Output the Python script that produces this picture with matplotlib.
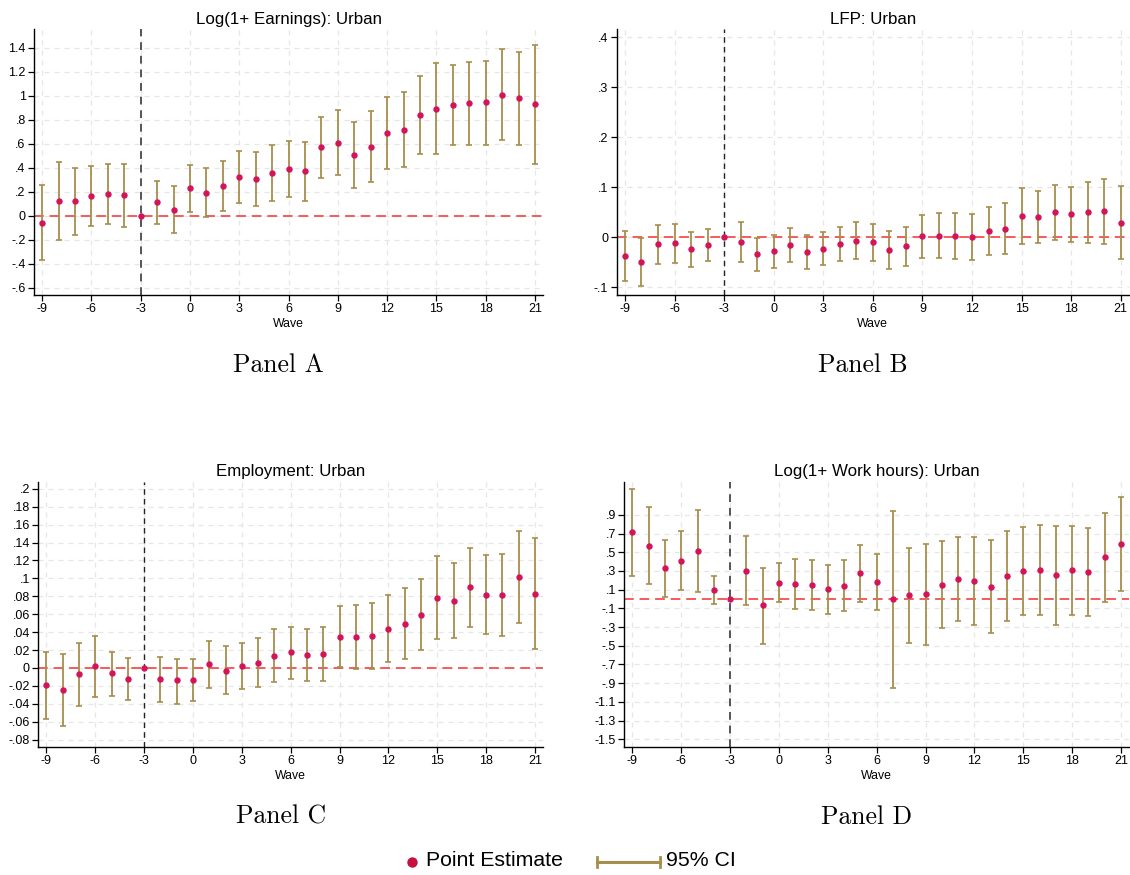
import numpy as np
import matplotlib
matplotlib.use("Agg")
import matplotlib.pyplot as plt

plt.rcParams['font.family'] = ['Liberation Sans', 'DejaVu Sans']
plt.rcParams['axes.unicode_minus'] = False

waves = list(range(-9, 22))
nan = np.nan

# Panel A: Log(1+ Earnings)
earn_est = [-0.06, 0.122, 0.12, 0.164, 0.183, 0.169, 0.0, 0.111, 0.05, 0.228, 0.192, 0.247,
            0.319, 0.306, 0.358, 0.389, 0.369, 0.569, 0.606, 0.506, 0.575, 0.686, 0.714,
            0.839, 0.889, 0.922, 0.936, 0.944, 1.008, 0.978, 0.928]
earn_lo = [-0.37, -0.203, -0.161, -0.086, -0.067, -0.092, nan, -0.069, -0.142, 0.031, -0.011, 0.036,
           0.106, 0.078, 0.119, 0.153, 0.122, 0.314, 0.339, 0.228, 0.278, 0.389, 0.406,
           0.517, 0.511, 0.589, 0.586, 0.592, 0.628, 0.592, 0.433]
earn_hi = [0.255, 0.45, 0.397, 0.417, 0.433, 0.433, nan, 0.289, 0.247, 0.425, 0.394, 0.458,
           0.536, 0.533, 0.592, 0.625, 0.617, 0.825, 0.878, 0.781, 0.869, 0.986, 1.028,
           1.164, 1.269, 1.258, 1.281, 1.292, 1.386, 1.361, 1.422]

# Panel B: LFP
lfp_est = [-0.038, -0.049, -0.014, -0.012, -0.024, -0.015, 0.0, -0.009, -0.034, -0.027, -0.015, -0.03,
           -0.023, -0.013, -0.007, -0.01, -0.025, -0.017, 0.002, 0.003, 0.002, 0.001, 0.013,
           0.017, 0.043, 0.041, 0.05, 0.046, 0.051, 0.052, 0.029]
lfp_lo = [-0.087, -0.097, -0.053, -0.052, -0.06, -0.047, nan, -0.049, -0.067, -0.061, -0.049, -0.063,
          -0.056, -0.048, -0.044, -0.047, -0.063, -0.057, -0.041, -0.042, -0.044, -0.046, -0.036,
          -0.034, -0.014, -0.011, -0.005, -0.009, -0.011, -0.013, -0.044]
lfp_hi = [0.012, -0.001, 0.025, 0.027, 0.011, 0.017, nan, 0.031, -0.001, 0.005, 0.019, 0.004,
          0.010, 0.021, 0.03, 0.027, 0.013, 0.021, 0.045, 0.049, 0.049, 0.047, 0.061,
          0.068, 0.099, 0.093, 0.105, 0.101, 0.111, 0.116, 0.103]

# Panel C: Employment
emp_est = [-0.019, -0.025, -0.007, 0.002, -0.006, -0.012, 0.0, -0.012, -0.014, -0.013, 0.004, -0.003,
           0.002, 0.006, 0.013, 0.0175, 0.0145, 0.015, 0.035, 0.034, 0.036, 0.044, 0.0495,
           0.0596, 0.0786, 0.075, 0.090, 0.0816, 0.081, 0.102, 0.083]
emp_lo = [-0.057, -0.065, -0.042, -0.032, -0.031, -0.036, nan, -0.038, -0.04, -0.037, -0.022, -0.029,
          -0.024, -0.021, -0.016, -0.012, -0.0145, -0.015, 0.001, -0.001, -0.0015, 0.007, 0.010,
          0.020, 0.032, 0.033, 0.046, 0.038, 0.036, 0.050, 0.0216]
emp_hi = [0.018, 0.015, 0.028, 0.036, 0.018, 0.011, nan, 0.012, 0.010, 0.010, 0.030, 0.024,
          0.028, 0.033, 0.043, 0.046, 0.044, 0.046, 0.069, 0.070, 0.073, 0.082, 0.089,
          0.099, 0.125, 0.117, 0.134, 0.126, 0.127, 0.153, 0.145]

# Panel D: Log(1+ Work hours)
hrs_est = [0.713, 0.57, 0.328, 0.41, 0.51, 0.096, 0.0, 0.303, -0.068, 0.175, 0.157, 0.15,
           0.107, 0.143, 0.278, 0.182, 0.0, 0.039, 0.05, 0.15, 0.214, 0.193, 0.132,
           0.25, 0.296, 0.314, 0.253, 0.31, 0.285, 0.446, 0.592]
hrs_lo = [0.25, 0.157, 0.018, 0.093, 0.071, -0.053, nan, -0.068, -0.478, -0.036, -0.111, -0.118,
          -0.157, -0.128, -0.029, -0.121, -0.952, -0.471, -0.496, -0.314, -0.239, -0.278, -0.364,
          -0.235, -0.171, -0.168, -0.278, -0.168, -0.185, -0.032, 0.086]
hrs_hi = [1.18, 0.984, 0.635, 0.731, 0.948, 0.246, nan, 0.674, 0.335, 0.381, 0.428, 0.421,
          0.367, 0.414, 0.581, 0.485, 0.941, 0.545, 0.588, 0.617, 0.66, 0.66, 0.627,
          0.731, 0.766, 0.795, 0.784, 0.784, 0.759, 0.92, 1.094]

titles = ["Log(1+ Earnings): Urban", "LFP: Urban", "Employment: Urban", "Log(1+ Work hours): Urban"]
panel_names = ["Panel A", "Panel B", "Panel C", "Panel D"]
xticks = [-9, -6, -3, 0, 3, 6, 9, 12, 15, 18, 21]

EST_COLOR = "#D4145A"
CI_COLOR = "#A68E4C"
ZERO_COLOR = "#F25C5C"

W, H = 1130, 875
fig = plt.figure(figsize=(W / 100, H / 100), dpi=100)


def px_axes(left, top, right, bottom):
    return fig.add_axes([left / W, 1 - bottom / H, (right - left) / W, (bottom - top) / H])


def stata_fmt(v, _pos=None):
    if abs(v) < 1e-9:
        return "0"
    s = f"{v:.2f}".rstrip("0").rstrip(".")
    s = s.replace("-0.", "-.")
    if s.startswith("0."):
        s = s[1:]
    return s


panels = [
    dict(est=earn_est, lo=earn_lo, hi=earn_hi, box=(34, 29.3, 543.2, 295),
         ylim=(-0.661, 1.553), yticks=np.round(np.arange(-0.6, 1.41, 0.2), 2), vcol="#555555", vlw=1.4),
    dict(est=lfp_est, lo=lfp_lo, hi=lfp_hi, box=(616.7, 29.3, 1129, 295),
         ylim=(-0.115, 0.416), yticks=np.round(np.arange(-0.1, 0.41, 0.1), 2), vcol="#222222", vlw=1.0),
    dict(est=emp_est, lo=emp_lo, hi=emp_hi, box=(38.2, 481.7, 543.2, 746.7),
         ylim=(-0.088, 0.208), yticks=np.round(np.arange(-0.08, 0.201, 0.02), 2), vcol="#222222", vlw=1.0),
    dict(est=hrs_est, lo=hrs_lo, hi=hrs_hi, box=(624.2, 481.7, 1129.2, 746.7),
         ylim=(-1.58, 1.255), yticks=np.round(np.arange(-1.5, 0.91, 0.2), 2), vcol="#555555", vlw=1.4),
]

for i, p in enumerate(panels):
    ax = px_axes(*p["box"])
    x = np.array(waves, dtype=float)
    est = np.array(p["est"])
    lo = np.array(p["lo"])
    hi = np.array(p["hi"])

    ax.set_xlim(-9.5, 21.5)
    ax.set_ylim(*p["ylim"])
    ax.set_xticks(xticks)
    ax.set_yticks(p["yticks"])
    ax.yaxis.set_major_formatter(matplotlib.ticker.FuncFormatter(stata_fmt))
    ax.grid(True, color="#E6E6E6", lw=0.9, ls=(0, (4, 4)))
    ax.set_axisbelow(True)
    for s in ("top", "right"):
        ax.spines[s].set_visible(False)
    ax.spines["left"].set_linewidth(1.0)
    ax.spines["bottom"].set_linewidth(1.0)
    ax.tick_params(axis="both", labelsize=9, length=4, width=0.9, pad=2, colors="black")

    ax.axhline(0, color=ZERO_COLOR, lw=1.4, ls=(0, (5, 3)), zorder=2)
    ax.axvline(-3, color=p["vcol"], lw=p["vlw"], ls=(0, (4, 3)), zorder=2)

    ok = ~np.isnan(lo)
    ax.errorbar(x[ok], est[ok], yerr=[est[ok] - lo[ok], hi[ok] - est[ok]], fmt="none",
                ecolor=CI_COLOR, elinewidth=1.3, capsize=2.2, capthick=1.2, zorder=3)
    ax.plot(x, est, "o", color=EST_COLOR, ms=4.6, mec="none", zorder=4)

    ax.set_title(titles[i], fontsize=12.2, pad=4)
    ax.set_xlabel("Wave", fontsize=8.8, labelpad=2)

    l, t, r, b = p["box"]
    fig.text((l + r) / 2 / W - 10 / W, 1 - (b + 70) / H, panel_names[i], family="cmr10",
             fontsize=18.5, ha="center", va="center")

# legend drawn on a full-figure overlay in pixel units
lax = fig.add_axes([0, 0, 1, 1])
lax.set_xlim(0, W)
lax.set_ylim(H, 0)
lax.axis("off")
ly = 862
lax.plot([412], [ly], "o", color="#C8103F", ms=7.5, mec="none")
lax.text(426, ly - 1, "Point Estimate", fontsize=15.3, va="center", ha="left")
lax.plot([597, 660], [ly, ly], color=CI_COLOR, lw=2.2)
lax.plot([597, 597], [ly - 5, ly + 5], color=CI_COLOR, lw=2.0)
lax.plot([660, 660], [ly - 5, ly + 5], color=CI_COLOR, lw=2.0)
lax.text(666, ly - 1, "95% CI", fontsize=15.3, va="center", ha="left")

fig.savefig("out.png", dpi=100)
